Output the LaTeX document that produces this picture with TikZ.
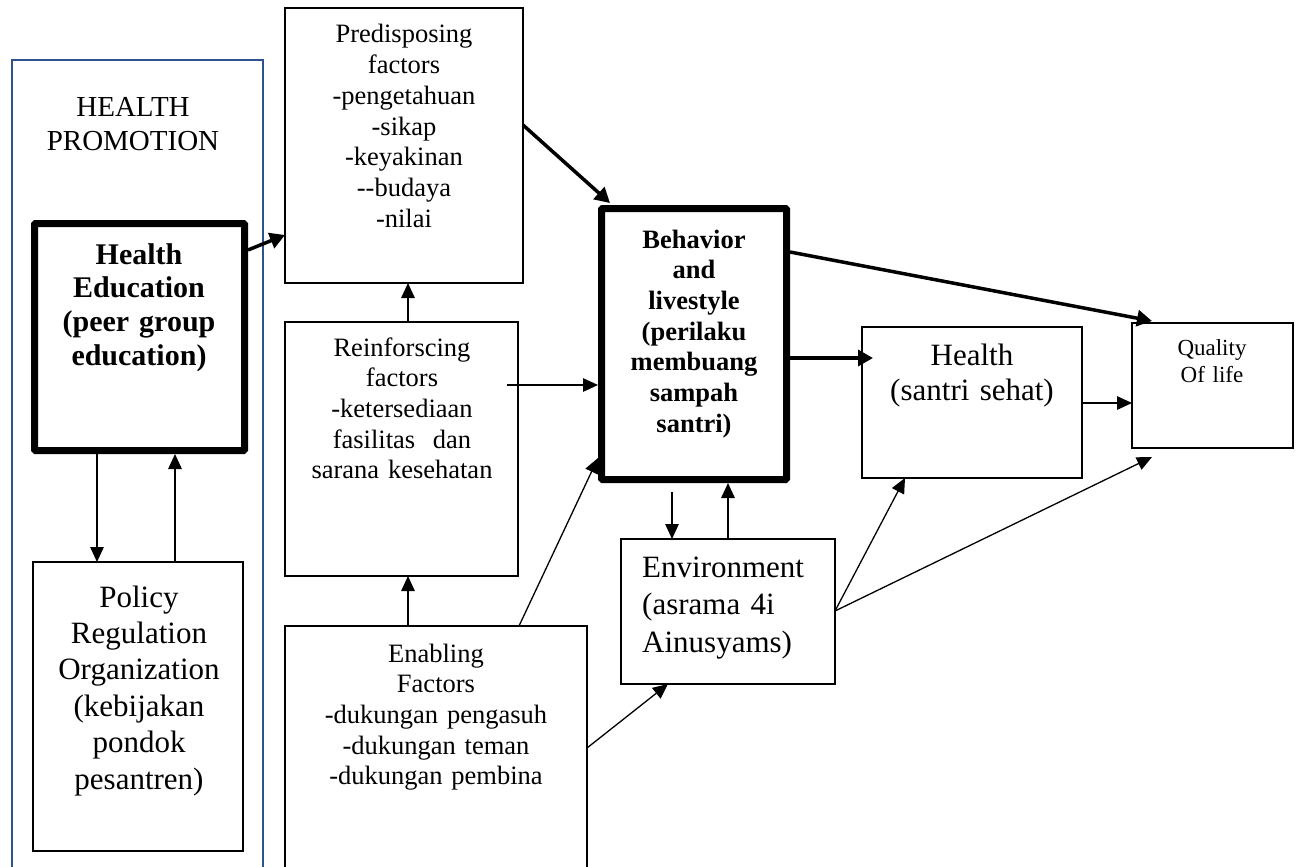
\documentclass[tikz,border=0pt]{standalone}
\usepackage{fontspec}
\setmainfont{Liberation Serif}
\usetikzlibrary{arrows.meta,calc}
\definecolor{hpblue}{HTML}{2F528F}
\newcommand{\fsA}{\fontsize{26.5}{30.7}\selectfont}
\newcommand{\fsB}{\fontsize{31}{36.4}\selectfont}
\newcommand{\fsHP}{\fontsize{29}{33}\selectfont}
\newcommand{\fsHE}{\fontsize{30}{33.8}\selectfont\bfseries}
\newcommand{\fsQ}{\fontsize{23}{27}\selectfont}
\newcommand{\fsE}{\fontsize{31}{37.5}\selectfont}
\newcommand{\fsH}{\fontsize{31}{35.5}\selectfont}
\begin{document}
\begin{tikzpicture}[x=1pt,y=-1pt,
  box/.style={draw,line width=1.3pt,inner sep=0pt,outer sep=0pt},
  thickbox/.style={draw,line width=7pt,inner sep=0pt,outer sep=3.5pt,rounded corners=1pt},
  arr/.style={line width=1.3pt,-{Triangle[length=15pt,width=13.5pt]}},
  tarr/.style={line width=3.5pt,-{Triangle[length=15pt,width=16pt]}},
  txt/.style={inner sep=0pt,anchor=base,align=center,text width=#1},
]
\useasboundingbox (0,0) rectangle (1296,867);
\fill[white] (0,0) rectangle (1296,867);

% health promotion frame
\node[box,draw=hpblue,line width=2pt,minimum width=251pt,minimum height=830pt] (hp) at (137.5,475) {};
\node[txt=240pt,font=\fsHP] (hpT) at (133,117) {HEALTH\\PROMOTION};

% health education
\node[thickbox,minimum width=210pt,minimum height=227pt] (he) at (139.5,337) {};
\node[txt=205pt,font=\fsHE] (heT) at (139,264) {Health\\Education\\(peer group\\education)};

% policy
\node[box,minimum width=210pt,minimum height=289pt] (pol) at (138,706.5) {};
\node[txt=205pt,font=\fsB] (polT) at (139,607) {Policy\\Regulation\\Organization\\(kebijakan\\pondok\\pesantren)};

% predisposing
\node[box,minimum width=238pt,minimum height=275pt] (pred) at (404,145.5) {};
\node[txt=230pt,font=\fsA] (predT) at (404,43) {Predisposing\\factors\\-pengetahuan\\-sikap\\-keyakinan\\-{}-budaya\\-nilai};

% reinforcing
\node[box,minimum width=233pt,minimum height=254pt] (reinf) at (401.5,449) {};
\node[txt=230pt,font=\fsA] (reinfT) at (402,356) {Reinforscing\\factors\\-ketersediaan\\fasilitas\ \ dan\\sarana kesehatan};

% enabling
\node[box,minimum width=302pt,minimum height=264pt] (enab) at (436,758) {};
\node[txt=295pt,font=\fsA] (enabT) at (436,662) {Enabling\\Factors\\-dukungan pengasuh\\-dukungan teman\\-dukungan pembina};

% behavior
\node[thickbox,minimum width=185pt,minimum height=271pt] (beh) at (694,344) {};
\node[txt=180pt,font=\fsA\bfseries] (behT) at (694,248) {Behavior\\and\\livestyle\\(perilaku\\membuang\\sampah\\santri)};

% environment
\node[box,minimum width=214pt,minimum height=145pt] (env) at (728,611.5) {};
\node[inner sep=0pt,anchor=base west,align=left,text width=190pt,font=\fsE] (envT) at (642,577) {Environment\\(asrama 4i\\Ainusyams)};

% health
\node[box,minimum width=220pt,minimum height=151pt] (hlth) at (972,402.5) {};
\node[txt=215pt,font=\fsH] (hlthT) at (972,365) {Health\\(santri sehat)};

% quality of life
\node[box,minimum width=161pt,minimum height=125pt] (qol) at (1212.5,385.5) {};
\node[txt=150pt,font=\fsQ] (qolT) at (1212,355) {Quality\\Of life};

% connectors
\draw[tarr] (he.east |- 0,250) -- (pred.west |- 0,235);
\draw[arr] (he.south -| 97,0) -- (pol.north -| 97,0);
\draw[arr] (pol.north -| 175,0) -- (he.south -| 175,0);
\draw[arr] (reinf.north -| 408,0) -- (pred.south -| 408,0);
\draw[arr] (enab.north -| 408,0) -- (reinf.south -| 408,0);
\draw[tarr] (pred.east |- 0,125) -- ([xshift=12pt,yshift=2pt]beh.north west);
\draw[arr,shorten <=-11pt] (reinf.east |- 0,385) -- (beh.west |- 0,385);
\draw[arr] (enab.north -| 519,0) -- (beh.west |- 0,458);
\draw[arr] (enab.east |- 0,748) -- (env.south -| 668,0);
\draw[arr,shorten <=9pt] (beh.south -| 672,0) -- (env.north -| 672,0);
\draw[arr] (env.north -| 728,0) -- (beh.south -| 728,0);
\draw[tarr,shorten >=-11pt] (beh.east |- 0,358) -- (hlth.west |- 0,358);
\draw[tarr] (beh.east |- 0,252) -- ([xshift=20pt,yshift=2pt]qol.north west);
\draw[arr] (hlth.east |- 0,403) -- (qol.west |- 0,403);
\draw[arr] (env.east |- 0,611) -- (hlth.south -| 905,0);
\draw[arr] (env.east |- 0,611) -- ($(qol.south -| 1152,0)+(0,9)$);
\end{tikzpicture}
\end{document}
